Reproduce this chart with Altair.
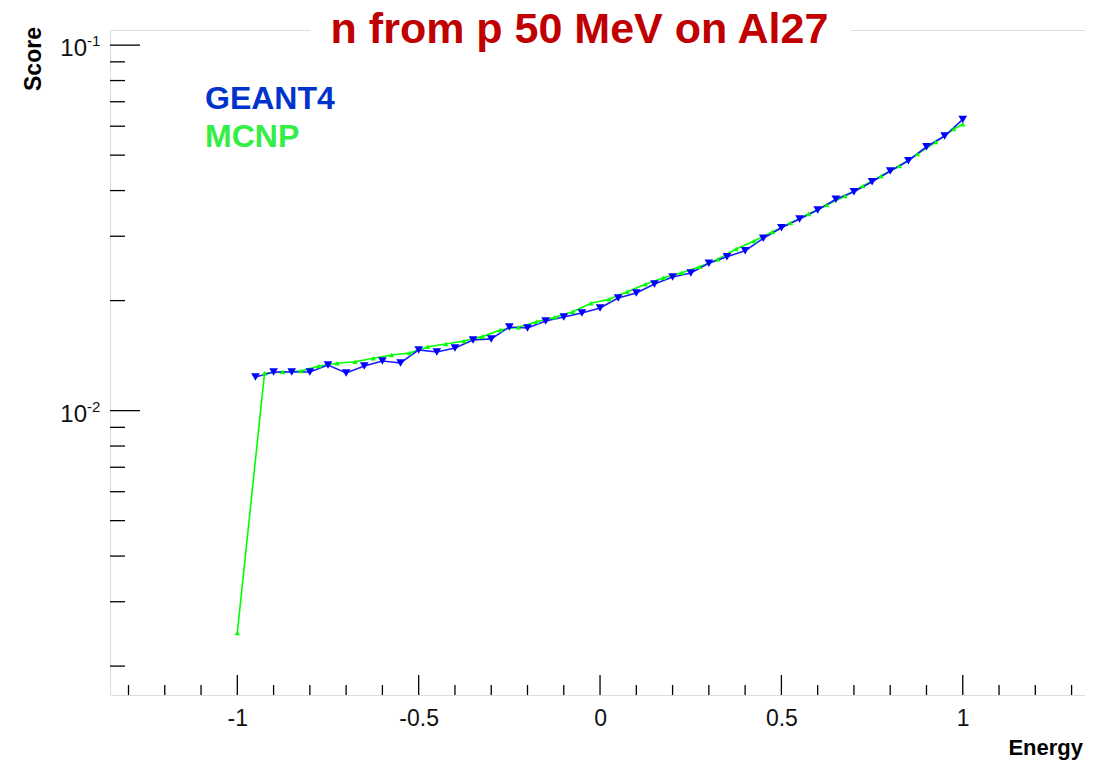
import altair as alt
import pandas as pd

# ---- data ----
geant4_x = [-0.95, -0.9, -0.85, -0.8, -0.75, -0.7, -0.65, -0.6, -0.55, -0.5,
            -0.45, -0.4, -0.35, -0.3, -0.25, -0.2, -0.15, -0.1, -0.05, 0.0,
            0.05, 0.1, 0.15, 0.2, 0.25, 0.3, 0.35, 0.4, 0.45, 0.5,
            0.55, 0.6, 0.65, 0.7, 0.75, 0.8, 0.85, 0.9, 0.95, 1.0]
geant4_y = [0.01236, 0.01276, 0.01276, 0.01276, 0.01333, 0.01268, 0.01325, 0.01367, 0.01350, 0.01466,
            0.01447, 0.01484, 0.01561, 0.01571, 0.01694, 0.01683, 0.01759, 0.01804, 0.01850, 0.01909,
            0.02033, 0.02098, 0.02220, 0.02320, 0.02380, 0.02530, 0.02637, 0.02738, 0.02961, 0.03165,
            0.03343, 0.03538, 0.03786, 0.03971, 0.04229, 0.04524, 0.04827, 0.05272, 0.05639, 0.06263]

mcnp_x = [-1.0, -0.925, -0.875, -0.825, -0.775, -0.725, -0.675, -0.625, -0.575, -0.525,
          -0.475, -0.425, -0.375, -0.325, -0.275, -0.225, -0.175, -0.125, -0.075, -0.025,
          0.025, 0.075, 0.125, 0.175, 0.225, 0.275, 0.325, 0.375, 0.425, 0.475,
          0.525, 0.575, 0.625, 0.675, 0.725, 0.775, 0.825, 0.875, 0.925, 0.975, 1.0]
mcnp_y = [0.002466, 0.01265, 0.01276, 0.01284, 0.01325, 0.01348, 0.01361, 0.01391, 0.01420, 0.01438,
          0.01496, 0.01522, 0.01551, 0.01594, 0.01662, 0.01691, 0.01751, 0.01801, 0.01865, 0.01966,
          0.02016, 0.02115, 0.02216, 0.02310, 0.02384, 0.02476, 0.02594, 0.02768, 0.02911, 0.03081,
          0.03261, 0.03451, 0.03652, 0.03864, 0.04115, 0.04383, 0.04669, 0.05034, 0.05430, 0.05894, 0.06081]

x_major_ticks = [-1.0, -0.5, 0.0, 0.5, 1.0]
x_minor_ticks = [-1.3, -1.2, -1.1, -0.9, -0.8, -0.7, -0.6, -0.4, -0.3, -0.2, -0.1,
                 0.1, 0.2, 0.3, 0.4, 0.6, 0.7, 0.8, 0.9, 1.1, 1.2, 1.3]
y_major_ticks = [0.01, 0.1]
y_major_base = ["10", "10"]
y_major_exp = ["-2", "-1"]
y_minor_ticks = [0.002, 0.003, 0.004, 0.005, 0.006, 0.007, 0.008, 0.009,
                 0.02, 0.03, 0.04, 0.05, 0.06, 0.07, 0.08, 0.09]

title_text = ["n from p 50 MeV on Al27"]
legend_g4 = ["GEANT4"]
legend_mcnp = ["MCNP"]
x_title = ["Energy"]
y_title = ["Score"]

# ---- styling ----
W, H = 975, 665
FONT = "Liberation Sans"
xscale = alt.Scale(domain=[-1.351, 1.337], nice=False, zero=False)
yscale = alt.Scale(type="log", domain=[0.001667, 0.110], nice=False)

g4 = pd.DataFrame({"x": geant4_x, "y": geant4_y})
mc = pd.DataFrame({"x": mcnp_x, "y": mcnp_y})

xaxis = alt.Axis(values=x_major_ticks, labelExpr="'' + datum.value", ticks=False, domain=False,
                 grid=False, labelFont=FONT, labelFontSize=23, labelColor="#111",
                 labelPadding=12, title=None)

mcnp_line = alt.Chart(mc).mark_line(color="#00ff00", strokeWidth=1.6).encode(
    x=alt.X("x:Q", scale=xscale, axis=xaxis),
    y=alt.Y("y:Q", scale=yscale, axis=None))
mcnp_pts = alt.Chart(mc).mark_point(shape="triangle-up", filled=True, size=28, color="#00ff00", opacity=1).encode(
    x=alt.X("x:Q", scale=xscale), y=alt.Y("y:Q", scale=yscale))
g4_line = alt.Chart(g4).mark_line(color="#1a1aff", strokeWidth=1.6).encode(
    x=alt.X("x:Q", scale=xscale), y=alt.Y("y:Q", scale=yscale))
g4_pts = alt.Chart(g4).mark_point(shape="triangle-down", filled=True, size=75, color="#0000ff", opacity=1).encode(
    x=alt.X("x:Q", scale=xscale), y=alt.Y("y:Q", scale=yscale))

xmaj = alt.Chart(pd.DataFrame({"v": x_major_ticks})).mark_rule(color="#000", strokeWidth=1.3).encode(
    x=alt.X("v:Q", scale=xscale), y=alt.value(H), y2=alt.value(H - 20))
xmin = alt.Chart(pd.DataFrame({"v": x_minor_ticks})).mark_rule(color="#000", strokeWidth=1.3).encode(
    x=alt.X("v:Q", scale=xscale), y=alt.value(H), y2=alt.value(H - 10))
ymaj = alt.Chart(pd.DataFrame({"v": y_major_ticks})).mark_rule(color="#000", strokeWidth=1.3).encode(
    y=alt.Y("v:Q", scale=yscale), x=alt.value(0), x2=alt.value(30))
ymin = alt.Chart(pd.DataFrame({"v": y_minor_ticks})).mark_rule(color="#000", strokeWidth=1.3).encode(
    y=alt.Y("v:Q", scale=yscale), x=alt.value(0), x2=alt.value(15))

ylab_df = pd.DataFrame({"v": y_major_ticks, "b": y_major_base, "e": y_major_exp})
ylab_base = alt.Chart(ylab_df).mark_text(font=FONT, fontSize=24, align="right", baseline="alphabetic",
                                         color="#111", dy=11).encode(
    y=alt.Y("v:Q", scale=yscale), x=alt.value(-23), text="b:N")
ylab_exp = alt.Chart(ylab_df).mark_text(font=FONT, fontSize=15, align="left", baseline="alphabetic",
                                        color="#111", dy=1).encode(
    y=alt.Y("v:Q", scale=yscale), x=alt.value(-23), text="e:N")

# white box interrupting the top frame behind the title
title_box = alt.Chart(pd.DataFrame({"t": title_text})).mark_rect(color="white").encode(
    x=alt.value(200), x2=alt.value(741), y=alt.value(-6), y2=alt.value(6))
title = alt.Chart(pd.DataFrame({"t": title_text})).mark_text(
    font=FONT, fontSize=43, fontWeight="bold", color="#c00000", align="center", baseline="alphabetic").encode(
    x=alt.value(469.5), y=alt.value(13), text="t:N")
leg1 = alt.Chart(pd.DataFrame({"t": legend_g4})).mark_text(
    font=FONT, fontSize=32, fontWeight="bold", color="#0033cc", align="left", baseline="alphabetic").encode(
    x=alt.value(95), y=alt.value(79), text="t:N")
leg2 = alt.Chart(pd.DataFrame({"t": legend_mcnp})).mark_text(
    font=FONT, fontSize=32, fontWeight="bold", color="#33ee44", align="left", baseline="alphabetic").encode(
    x=alt.value(95), y=alt.value(117), text="t:N")
xt = alt.Chart(pd.DataFrame({"t": x_title})).mark_text(
    font=FONT, fontSize=22, fontWeight="bold", color="#000", align="right", baseline="alphabetic").encode(
    x=alt.value(W - 2), y=alt.value(725), text="t:N")
yt = alt.Chart(pd.DataFrame({"t": y_title})).mark_text(
    font=FONT, fontSize=23, fontWeight="bold", color="#000", align="center", baseline="middle", angle=270).encode(
    x=alt.value(-76), y=alt.value(29), text="t:N")

chart = alt.layer(
    mcnp_line, g4_line, mcnp_pts, g4_pts,
    xmaj, xmin, ymaj, ymin, ylab_base, ylab_exp,
    title_box, title, leg1, leg2, xt, yt,
).properties(
    width=W, height=H,
    autosize=alt.AutoSizeParams(type="none"),
    padding={"left": 102, "top": 22, "right": 0, "bottom": 66},
).configure_view(stroke="#000", strokeWidth=1.5).configure(background="white")

chart.save("out.html", embed_options={"renderer": "svg", "actions": False})
